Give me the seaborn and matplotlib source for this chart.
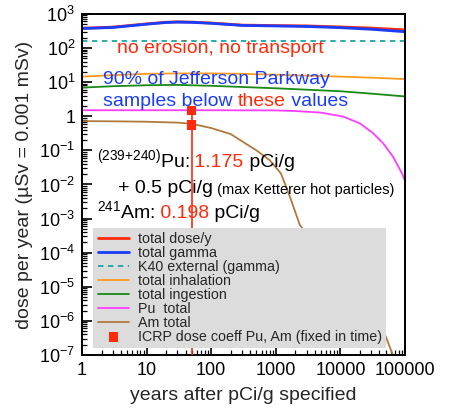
import numpy as np
import pandas as pd
import matplotlib
matplotlib.use('Agg')
import matplotlib.pyplot as plt
import matplotlib.ticker as mticker
import seaborn as sns

# values
years_tot = [1, 3, 10, 20, 30, 50, 100, 300, 1000, 3000, 10000, 30000, 100000]
total_dose = [380, 410, 510, 570, 585, 575, 540, 470, 455, 445, 415, 385, 340]
total_gamma = [372, 400, 500, 560, 575, 565, 530, 460, 443, 428, 395, 355, 300]

years_k40 = [1, 100000]
k40_ext = [160, 160]

years_inh = [1, 3, 10, 30, 100, 300, 1000, 3000, 10000, 30000, 100000]
inhalation = [14.5, 16, 17.5, 18, 18, 17.5, 16.5, 15.5, 14.5, 13.5, 12.3]
ingestion = [6.9, 7.6, 8.1, 8.3, 7.8, 7.2, 6.6, 6.0, 5.4, 4.6, 3.8]

years_pu = [1, 10, 100, 1000, 2000, 5000, 11000, 20000, 32000, 46000, 65000, 90000, 100000]
pu_total = [1.5, 1.5, 1.5, 1.48, 1.42, 1.28, 0.98, 0.62, 0.32, 0.16, 0.066, 0.021, 0.013]

years_am = [1, 3, 10, 30, 50, 100, 200, 500, 800, 1200, 1650, 2350, 46000, 65000]
am_total = [0.72, 0.71, 0.69, 0.65, 0.6, 0.45, 0.3, 0.1, 0.052, 0.021, 0.0044, 6.5e-4, 5.4e-7, 1e-7]

icrp_year = [50, 50]
icrp_dose = [1.47, 0.55]

x_ticks = [1, 10, 100, 1000, 10000, 100000]
x_labels = ['1', '10', '100', '1000', '10000', '100000']
y_exps = [-7, -6, -5, -4, -3, -2, -1, 0, 1, 2, 3]

RED = '#ff2a0a'
BLUE = '#1a3cff'

sns.set_style('ticks')
plt.rcParams['font.family'] = ['Liberation Sans', 'DejaVu Sans']
plt.rcParams['mathtext.default'] = 'regular'

fig = plt.figure(figsize=(4.51, 4.09), dpi=100)
ax = fig.add_axes([0.182, 0.132, 0.716, 0.834])
ax.set_xscale('log')
ax.set_yscale('log')

series = [
    (years_tot, total_dose, 'total dose/y', RED, '-', 2.0),
    (years_k40, k40_ext, 'K40 external (gamma)', '#1aa5a5', (0, (3, 2.5)), 1.3),
    (years_inh, inhalation, 'total inhalation', '#ff9a1a', '-', 1.3),
    (years_inh, ingestion, 'total ingestion', '#178a17', '-', 1.3),
    (years_pu, pu_total, 'Pu  total', '#ff3dff', '-', 1.3),
    (years_am, am_total, 'Am total', '#b07a3e', '-', 1.3),
    (years_tot, total_gamma, 'total gamma', BLUE, '-', 2.0),
]
handles = {}
for xs, ys, lab, col, ls, lw in series:
    df = pd.DataFrame({'year': xs, 'dose': ys})
    sns.lineplot(data=df, x='year', y='dose', ax=ax, color=col, lw=lw,
                 linestyle=ls, label=lab, legend=False)
    handles[lab] = ax.get_lines()[-1]

ax.vlines(icrp_year[0], 1e-7, max(icrp_dose), color=RED, lw=1.2, zorder=4)
sns.scatterplot(x=icrp_year, y=icrp_dose, ax=ax, marker='s', color=RED,
                s=45, edgecolor='none', zorder=5, legend=False)
icrp_h = ax.collections[-1]

order = ['total dose/y', 'total gamma', 'K40 external (gamma)', 'total inhalation',
         'total ingestion', 'Pu  total', 'Am total']
hs = [handles[k] for k in order] + [icrp_h]
labs = order + ['ICRP dose coeff Pu, Am (fixed in time)']
leg = ax.legend(hs, labs, loc='lower left', bbox_to_anchor=(0.035, 0.02),
                fontsize=10.3, frameon=True, fancybox=False, facecolor='#dcdcdc',
                edgecolor='none', framealpha=1, labelspacing=0.0,
                handlelength=2.2, handletextpad=0.6, borderpad=0.3,
                borderaxespad=0)
leg.set_zorder(6)

ax.set_xlim(1, 100000)
ax.set_ylim(1e-7, 1e3)
ax.set_xticks(x_ticks)
ax.set_xticklabels(x_labels)
ax.set_yticks([10.0 ** e for e in y_exps])
ax.set_yticklabels(['1' if e == 0 else '$10^{%d}$' % e for e in y_exps])
ax.xaxis.set_minor_locator(mticker.LogLocator(base=10, subs=np.arange(2, 10), numticks=20))
ax.yaxis.set_minor_locator(mticker.LogLocator(base=10, subs=np.arange(2, 10), numticks=20))
ax.xaxis.set_minor_formatter(mticker.NullFormatter())
ax.yaxis.set_minor_formatter(mticker.NullFormatter())
ax.tick_params(which='both', direction='in', top=False, right=False,
               labelsize=13, pad=5, colors='black')
ax.tick_params(which='major', length=7, width=1.2)
ax.tick_params(which='minor', length=3.5, width=0.9)
for sp in ax.spines.values():
    sp.set_linewidth(1.4)
    sp.set_color('black')

ax.set_xlabel('years after pCi/g specified', fontsize=14, labelpad=6)
ax.set_ylabel('dose per year (µSv = 0.001 mSv)', fontsize=14, labelpad=4)


def chain(x, y, parts):
    prev = None
    for s, col, fs in parts:
        if prev is None:
            prev = ax.text(x, y, s, color=col, fontsize=fs, transform=ax.transAxes,
                           va='baseline', ha='left', zorder=3)
        else:
            prev = ax.annotate(s, xy=(1, 0), xycoords=prev, color=col, fontsize=fs,
                               va='bottom', ha='left', zorder=3)


chain(0.108, 0.886, [('no erosion, no transport', RED, 14)])
chain(0.065, 0.795, [('90% of Jefferson Parkway', BLUE, 14)])
chain(0.065, 0.730, [('samples below ', BLUE, 14), ('these', RED, 14), (' values', BLUE, 14)])
chain(0.0455, 0.552, [('$^{(239{+}240)}$Pu:', 'black', 14), (' 1.175', RED, 14),
                      (' pCi/g', 'black', 14)])
chain(0.112, 0.474, [('+ 0.5 pCi/g', 'black', 14), (' (max Ketterer hot particles)', 'black', 10.5)])
chain(0.0455, 0.401, [('$^{241}$Am:', 'black', 14), (' 0.198', RED, 14), (' pCi/g', 'black', 14)])

fig.savefig('out.png', dpi=100)
